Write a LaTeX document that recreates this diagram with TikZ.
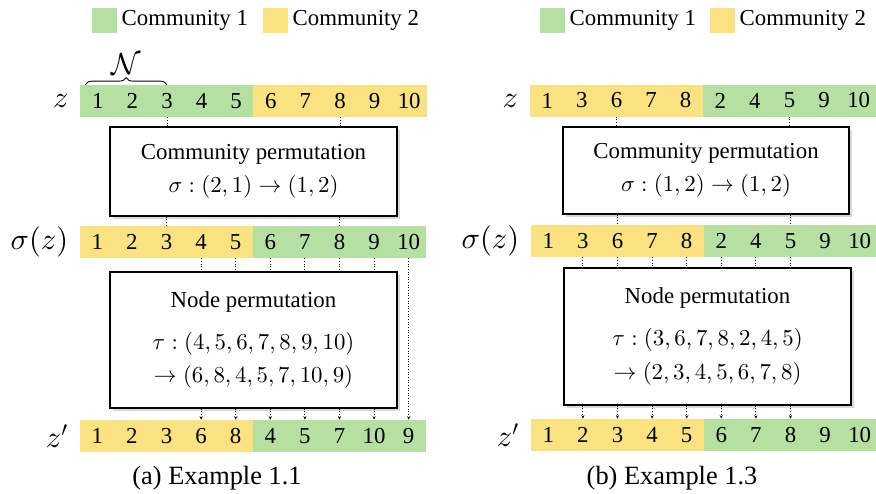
\documentclass[tikz,border=0pt]{standalone}
\usepackage[no-math]{fontspec}
\setmainfont{Liberation Serif}
\usetikzlibrary{positioning,arrows.meta,shadows,decorations.pathreplacing}
% scalable math fonts
\DeclareFontShape{OML}{cmm}{m}{it}{<-> cmmi10}{\skewchar\font=127}
\DeclareFontShape{OMS}{cmsy}{m}{n}{<-> cmsy10}{\skewchar\font=48}
\DeclareFontShape{OT1}{cmr}{m}{n}{<-> cmr10}{}
\definecolor{cgreen}{RGB}{182,224,162}
\definecolor{cyellow}{RGB}{249,226,127}

% one row of ten coloured cells: name, left x, y, colour 1-5, colour 6-10, entries
\newcommand{\cellrow}[6]{%
  \foreach \v [count=\i] in {#6} {
    \ifnum\i<6 \def\cc{#4}\else\def\cc{#5}\fi
    \node[cell, fill=\cc] (#1\i) at ({#2+(\i-0.5)*0.692},#3) {\v};
  }}

\begin{document}
\begin{tikzpicture}[
    cell/.style={minimum width=0.7cm, minimum height=0.64cm, inner sep=0pt, font=\fontsize{13}{15}\selectfont},
    pbox/.style={draw, line width=0.8pt, fill=white, align=center, font=\fontsize{13}{15}\selectfont,
      drop shadow={shadow xshift=1.5pt, shadow yshift=-1.5pt, opacity=0.3}},
    lab/.style={inner sep=0pt, font=\fontsize{17.28}{20}\selectfont},
    swatch/.style={minimum size=0.5cm, inner sep=0pt},
    legtext/.style={inner sep=0pt, font=\fontsize{13}{15}\selectfont},
    link/.style={densely dotted, line width=0.5pt},
    linkto/.style={link, -{Stealth[length=2pt, width=1.8pt]}},
    capt/.style={font=\fontsize{15}{18}\selectfont}]
  \useasboundingbox (0,0) rectangle (17.52,9.86);

  % legends
  \node[swatch, fill=cgreen] (lga1) at (2.09,9.46) {};
  \node[legtext, right=0.08cm of lga1] (lta1) {Community 1};
  \node[swatch, fill=cyellow] (lga2) at (5.51,9.46) {};
  \node[legtext, right=0.08cm of lga2] (lta2) {Community 2};
  \node[swatch, fill=cgreen] (lgb1) at (11.05,9.46) {};
  \node[legtext, right=0.08cm of lgb1] (ltb1) {Community 1};
  \node[swatch, fill=cyellow] (lgb2) at (14.45,9.46) {};
  \node[legtext, right=0.08cm of lgb2] (ltb2) {Community 2};

  % (a) example 1.1
  \cellrow{za}{1.61}{7.84}{cgreen}{cyellow}{1,...,10}
  \cellrow{sa}{1.60}{5.02}{cyellow}{cgreen}{1,...,10}
  \cellrow{pa}{1.60}{1.14}{cyellow}{cgreen}{1,2,3,6,8,4,5,7,10,9}
  \node[lab, left=0.22cm of za1] (lza) {$z$};
  \node[lab, left=0.22cm of sa1] (lsa) {$\sigma(z)$};
  \node[lab, left=0.22cm of pa1] (lpa) {$z'$};
  \draw[decorate, decoration={brace, amplitude=4pt}, line width=0.5pt]
    ([xshift=3pt]za1.north west) -- (za3.north) node[lab, midway, above=5.5pt] (nla) {$\mathcal{N}$};

  \node[pbox, minimum width=5.74cm, minimum height=1.78cm] (cpa) at (5.07,6.43)
    {Community permutation\\[3.7pt] $\sigma:(2,1)\to(1,2)$};
  \node[pbox, minimum width=5.74cm, minimum height=2.72cm] (npa) at (5.07,3.06)
    {Node permutation\\[8.8pt] $\tau:(4,5,6,7,8,9,10)$\\[4.3pt] $\to(6,8,4,5,7,10,9)$};

  \foreach \k in {3,8} {
    \draw[link] (za\k.south) -- (za\k.south |- cpa.north);
    \draw[link] (sa\k.north |- cpa.south) -- (sa\k.north);
  }
  \foreach \k in {4,...,9} {
    \draw[link] (sa\k.south) -- (sa\k.south |- npa.north);
    \draw[linkto] (pa\k.north |- npa.south) -- (pa\k.north);
  }
  \draw[linkto] (sa10.south) -- (pa10.north);
  \node[capt] (capa) at (4.34,0.30) {(a) Example 1.1};

  % (b) example 1.3
  \cellrow{zb}{10.60}{7.85}{cyellow}{cgreen}{1,3,6,7,8,2,4,5,9,10}
  \cellrow{sb}{10.62}{5.04}{cyellow}{cgreen}{1,3,6,7,8,2,4,5,9,10}
  \cellrow{pb}{10.62}{1.16}{cyellow}{cgreen}{1,...,10}
  \node[lab, left=0.22cm of zb1] (lzb) {$z$};
  \node[lab, left=0.22cm of sb1] (lsb) {$\sigma(z)$};
  \node[lab, left=0.22cm of pb1] (lpb) {$z'$};

  \node[pbox, minimum width=5.72cm, minimum height=1.74cm] (cpb) at (14.12,6.45)
    {Community permutation\\[3.7pt] $\sigma:(1,2)\to(1,2)$};
  \node[pbox, minimum width=5.74cm, minimum height=2.74cm] (npb) at (14.15,3.13)
    {Node permutation\\[8.8pt] $\tau:(3,6,7,8,2,4,5)$\\[4.3pt] $\to(2,3,4,5,6,7,8)$};

  \foreach \k in {3,8} {
    \draw[link] (zb\k.south) -- (zb\k.south |- cpb.north);
    \draw[link] (sb\k.north |- cpb.south) -- (sb\k.north);
  }
  \foreach \k in {2,...,8} {
    \draw[link] (sb\k.south) -- (sb\k.south |- npb.north);
    \draw[linkto] (pb\k.north |- npb.south) -- (pb\k.north);
  }
  \node[capt] (capb) at (13.44,0.30) {(b) Example 1.3};
\end{tikzpicture}
\end{document}
